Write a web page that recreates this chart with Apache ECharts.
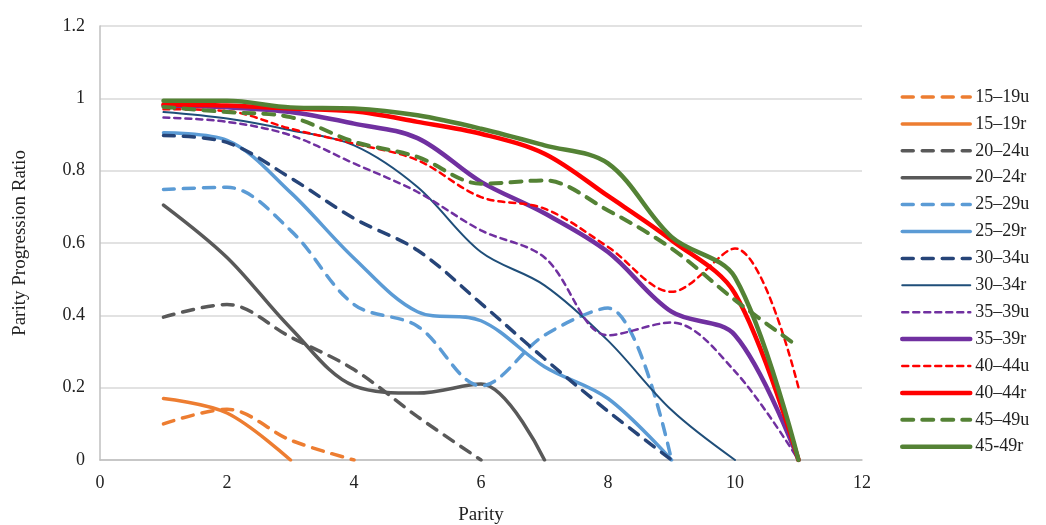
<!DOCTYPE html>
<html>
<head>
<meta charset="utf-8">
<script src="https://cdn.jsdelivr.net/npm/echarts@6/dist/echarts.min.js"></script>
<style>
  html, body { margin: 0; padding: 0; background: #fff; }
  #chart { width: 1046px; height: 525px; }
</style>
</head>
<body>
<div id="chart"></div>
<script>
// parity values start at 1 for every series
const names = ['15–19u','15–19r','20–24u','20–24r','25–29u','25–29r','30–34u','30–34r','35–39u','35–39r','40–44u','40–44r','45–49u','45-49r']

const v1519u = [0.10, 0.14, 0.055, 0]
const v1519r = [0.17, 0.13, 0]
const v2024u = [0.395, 0.43, 0.34, 0.25, 0.12, 0]
const v2024r = [0.705, 0.56, 0.365, 0.205, 0.185, 0.21, 0]
const v2529u = [0.748, 0.754, 0.635, 0.43, 0.37, 0.205, 0.345, 0.42, 0]
const v2529r = [0.905, 0.884, 0.74, 0.558, 0.41, 0.385, 0.258, 0.17, 0]
const v3034u = [0.897, 0.878, 0.78, 0.668, 0.58, 0.433, 0.28, 0.135, 0]
const v3034r = [0.962, 0.944, 0.912, 0.87, 0.755, 0.575, 0.483, 0.33, 0.138, 0]
const v3539u = [0.947, 0.935, 0.898, 0.82, 0.741, 0.635, 0.56, 0.345, 0.38, 0.245, 0]
const v3539r = [0.98, 0.975, 0.962, 0.93, 0.89, 0.769, 0.682, 0.575, 0.41, 0.345, 0]
const v4044u = [0.97, 0.965, 0.916, 0.875, 0.829, 0.727, 0.695, 0.589, 0.465, 0.585, 0.2]
const v4044r = [0.983, 0.98, 0.972, 0.964, 0.935, 0.902, 0.847, 0.73, 0.608, 0.46, 0]
const v4549u = [0.976, 0.962, 0.948, 0.88, 0.838, 0.764, 0.773, 0.69, 0.585, 0.442, 0.313]
const v4549r = [0.993, 0.993, 0.975, 0.972, 0.953, 0.916, 0.87, 0.82, 0.617, 0.505, 0]

const allValues = [v1519u,v1519r,v2024u,v2024r,v2529u,v2529r,v3034u,v3034r,v3539u,v3539r,v4044u,v4044r,v4549u,v4549r]

const colors = ['#ED7D31','#ED7D31','#595959','#595959','#5B9BD5','#5B9BD5','#264478','#1F4E79','#7030A0','#7030A0','#FF0000','#FF0000','#548235','#548235']
const widths = [3.5,3.5,3.5,3.5,3.5,3.5,3.5,2,2.5,4.5,2.5,4.5,4,4.5]
const dashes = [[11,9],'solid',[11,9],'solid',[11,9],'solid',[11,9],'solid',[6,5],'solid',[6,5],'solid',[11,9],'solid']

const font = 'Liberation Serif'

const chart = echarts.init(document.getElementById('chart'))

const series = allValues.map((vals, i) => ({
  name: names[i],
  type: 'line',
  smooth: 0.34,
  showSymbol: false,
  symbol: 'none',
  color: colors[i],
  lineStyle: { color: colors[i], width: widths[i], type: dashes[i], cap: 'round' },
  data: vals.map((v, j) => [j + 1, v])
}))

chart.setOption({
  animation: false,
  backgroundColor: '#fff',
  grid: { left: 100, right: 184, top: 26, bottom: 65, outerBoundsMode: 'none', containLabel: false },
  legend: {
    orient: 'vertical',
    left: 900,
    top: 88,
    padding: 0,
    itemGap: 8.9,
    itemWidth: 68,
    itemHeight: 17,
    itemStyle: { opacity: 0 },
    lineStyle: { width: 'inherit' },
    textStyle: { fontFamily: font, fontSize: 18, color: '#222' },
    data: names
  },
  xAxis: {
    type: 'value',
    min: 0, max: 12, interval: 2,
    name: 'Parity',
    nameLocation: 'middle',
    nameGap: 46,
    nameTextStyle: { fontFamily: font, fontSize: 19, color: '#222' },
    axisLine: { show: true, lineStyle: { color: '#bfbfbf', width: 1.5 } },
    axisTick: { show: false },
    axisLabel: { fontFamily: font, fontSize: 18, color: '#222', margin: 14 },
    splitLine: { show: false }
  },
  yAxis: {
    type: 'value',
    min: 0, max: 1.2, interval: 0.2,
    name: 'Parity Progression Ratio',
    nameLocation: 'middle',
    nameGap: 70,
    nameTextStyle: { fontFamily: font, fontSize: 19, color: '#222' },
    axisLine: { show: true, lineStyle: { color: '#bfbfbf', width: 1.5 } },
    axisTick: { show: false },
    axisLabel: {
      fontFamily: font, fontSize: 18, color: '#222', margin: 15,
      formatter: v => (v === 0 || v === 1) ? String(v) : v.toFixed(1)
    },
    splitLine: { lineStyle: { color: '#d9d9d9', width: 1.5 } }
  },
  series: series
})
</script>
</body>
</html>
